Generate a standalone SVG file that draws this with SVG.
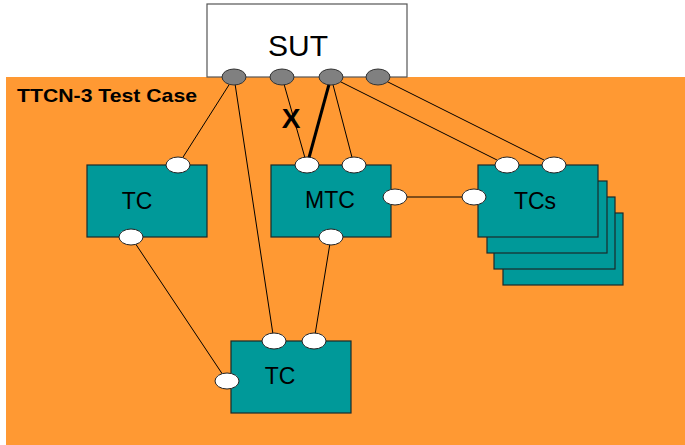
<svg xmlns="http://www.w3.org/2000/svg" width="685" height="445" viewBox="0 0 685 445">
<style>
.box{fill:#009999;stroke:#1a2a2a;stroke-width:1.2}
.port{fill:#ffffff;stroke:#222;stroke-width:1}
.gport{fill:#808080;stroke:#333;stroke-width:1}
.lbl{font-family:"Liberation Sans",Arial,sans-serif;font-size:23px;fill:#000;text-anchor:middle}
.ln{stroke:#000;stroke-width:1;fill:none}
</style>
<rect x="6" y="77" width="679" height="368" fill="#ff9933"/>
<text x="17" y="102" font-family="Liberation Sans,Arial,sans-serif" font-weight="bold" font-size="18.5" textLength="180" lengthAdjust="spacingAndGlyphs">TTCN-3 Test Case</text>
<g id="SUT">
<rect x="207" y="4" width="200" height="73" fill="#fff" stroke="#555" stroke-width="1.2"/>
<text class="lbl" x="298" y="56" style="font-size:30px">SUT</text>
</g>
<g id="connectors">
<line class="ln" x1="234" y1="77" x2="178" y2="165"/>
<line class="ln" x1="234" y1="77" x2="274" y2="341"/>
<line class="ln" x1="282" y1="77" x2="307" y2="165"/>
<line x1="331" y1="77" x2="307" y2="165" stroke="#000" stroke-width="3"/>
<line class="ln" x1="331" y1="77" x2="354" y2="165"/>
<line class="ln" x1="331" y1="77" x2="507" y2="165"/>
<line class="ln" x1="378" y1="77" x2="554" y2="165"/>
<line class="ln" x1="395" y1="197" x2="474" y2="197"/>
<line class="ln" x1="331" y1="237" x2="314" y2="341"/>
<line class="ln" x1="131" y1="237" x2="227" y2="381"/>
<text x="291" y="128" font-family="Liberation Sans,Arial,sans-serif" font-weight="bold" font-size="28" text-anchor="middle">X</text>
</g>
<g id="TC-left">
<rect class="box" x="87" y="165" width="120" height="72"/>
<text class="lbl" x="137" y="209">TC</text>
<ellipse class="port" cx="178" cy="165" rx="12" ry="8"/>
<ellipse class="port" cx="131" cy="237" rx="12" ry="8"/>
</g>
<g id="MTC">
<rect class="box" x="271" y="165" width="120" height="72"/>
<text class="lbl" x="330" y="208">MTC</text>
<ellipse class="port" cx="307" cy="165" rx="12" ry="8"/>
<ellipse class="port" cx="354" cy="165" rx="12" ry="8"/>
<ellipse class="port" cx="395" cy="197" rx="12" ry="8"/>
<ellipse class="port" cx="331" cy="237" rx="12" ry="8"/>
</g>
<g id="TCs">
<rect class="box" x="503" y="213" width="120" height="72"/>
<rect class="box" x="494" y="197" width="121" height="72"/>
<rect class="box" x="487" y="181" width="120" height="72"/>
<rect class="box" x="478" y="165" width="120" height="72"/>
<text class="lbl" x="535" y="209">TCs</text>
<ellipse class="port" cx="507" cy="165" rx="12" ry="8"/>
<ellipse class="port" cx="554" cy="165" rx="12" ry="8"/>
<ellipse class="port" cx="474" cy="197" rx="12" ry="8"/>
</g>
<g id="TC-bottom">
<rect class="box" x="231" y="341" width="120" height="72"/>
<text class="lbl" x="280" y="384">TC</text>
<ellipse class="port" cx="274" cy="341" rx="12" ry="8"/>
<ellipse class="port" cx="314" cy="341" rx="12" ry="8"/>
<ellipse class="port" cx="227" cy="381" rx="12" ry="8"/>
</g>
<g id="SUT-ports">
<ellipse class="gport" cx="234" cy="77" rx="12" ry="8"/>
<ellipse class="gport" cx="282" cy="77" rx="12" ry="8"/>
<ellipse class="gport" cx="331" cy="77" rx="12" ry="8"/>
<ellipse class="gport" cx="378" cy="77" rx="12" ry="8"/>
</g>
</svg>
